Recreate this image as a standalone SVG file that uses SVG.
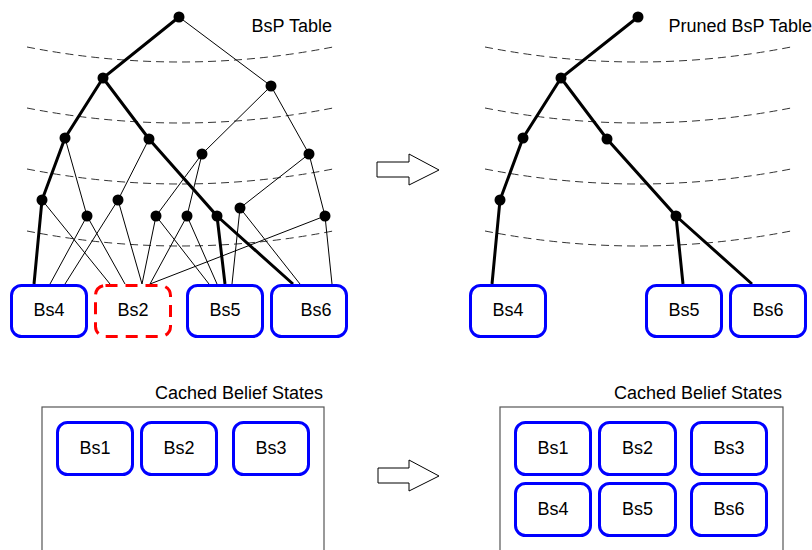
<svg xmlns="http://www.w3.org/2000/svg" width="812" height="550" viewBox="0 0 812 550">
<style>
text{font-family:"Liberation Sans",Arial,sans-serif;font-size:18px;fill:#000}
.lbl{text-anchor:middle}
.title{text-anchor:end}
.dash{fill:none;stroke:#333;stroke-width:1;stroke-dasharray:8,5}
.thin{stroke:#000;stroke-width:1;fill:none}
.thick{stroke:#000;stroke-width:3;fill:none}
.bs{fill:#fff;stroke:#0000ff;stroke-width:3}
.bsx{fill:#fff;stroke:#ff0000;stroke-width:3;stroke-dasharray:12,8}
.cont{fill:#fff;stroke:#555;stroke-width:1.2}
.arrow{fill:#fff;stroke:#000;stroke-width:1}
circle{fill:#000}
</style>
<rect width="812" height="550" fill="#fff"/>
<g id="levels">
<path class="dash" d="M27,47 Q180,77 333,47"/>
<path class="dash" d="M27,108 Q180,138 333,108"/>
<path class="dash" d="M27,169 Q180,199 333,169"/>
<path class="dash" d="M27,231 Q180,261 333,231"/>
<path class="dash" d="M485,47 Q638,77 791,47"/>
<path class="dash" d="M485,108 Q638,138 791,108"/>
<path class="dash" d="M485,169 Q638,199 791,169"/>
<path class="dash" d="M485,231 Q638,261 791,231"/>
</g>
<g id="connectors">
<path class="thick" d="M179,17 L103,78 L65,138 L42,200 L34,284 M103,78 L149,139 L217,216 L225,284 M217,216 L293,284"/>
<path class="thin" d="M179,17 L271,86 L202,154 M271,86 L309,154 M65,138 L87,216 M149,139 L118,200 M202,154 L156,216 M202,154 L187,216 M309,154 L240,208 M309,154 L325,216
M42,200 L110,284 M87,216 L50,284 M87,216 L125,284 M118,200 L65,284 M118,200 L142,284 M156,216 L142,284 M156,216 L209,284 M187,216 L150,284 M187,216 L217,284 M240,208 L232,284 M240,208 L300,284 M325,216 L150,284 M325,216 L332,284"/>
<path class="thick" d="M638,17 L561,78 L523,138 L500,200 L492,284 M561,78 L607,139 L676,216 L683,284 M676,216 L752,284"/>
</g>
<g id="tree-nodes">
<circle cx="179" cy="17" r="5.5"/>
<circle cx="103" cy="78" r="5.5"/>
<circle cx="271" cy="86" r="5.5"/>
<circle cx="65" cy="138" r="5.5"/>
<circle cx="149" cy="139" r="5.5"/>
<circle cx="202" cy="154" r="5.5"/>
<circle cx="309" cy="154" r="5.5"/>
<circle cx="42" cy="200" r="5.5"/>
<circle cx="87" cy="216" r="5.5"/>
<circle cx="118" cy="200" r="5.5"/>
<circle cx="156" cy="216" r="5.5"/>
<circle cx="187" cy="216" r="5.5"/>
<circle cx="217" cy="216" r="5.5"/>
<circle cx="240" cy="208" r="5.5"/>
<circle cx="325" cy="216" r="5.5"/>
<circle cx="638" cy="17" r="5.5"/>
<circle cx="561" cy="78" r="5.5"/>
<circle cx="523" cy="138" r="5.5"/>
<circle cx="607" cy="139" r="5.5"/>
<circle cx="500" cy="200" r="5.5"/>
<circle cx="676" cy="216" r="5.5"/>
</g>
<g id="titles">
<text class="title" x="332" y="32">BsP Table</text>
<text class="title" x="812" y="32">Pruned BsP Table</text>
</g>
<g id="left-Bs4"><rect class="bs" x="11.5" y="285.5" width="75" height="51" rx="10"/><text class="lbl" x="49" y="316">Bs4</text></g>
<g id="left-Bs2"><rect class="bsx" x="95.5" y="285.5" width="75" height="51" rx="10"/><text class="lbl" x="133" y="316">Bs2</text></g>
<g id="left-Bs5"><rect class="bs" x="187.5" y="285.5" width="75" height="51" rx="10"/><text class="lbl" x="225" y="316">Bs5</text></g>
<g id="left-Bs6"><rect class="bs" x="271.5" y="285.5" width="75" height="51" rx="10"/><text class="lbl" x="316" y="316">Bs6</text></g>
<g id="right-Bs4"><rect class="bs" x="470.5" y="285.5" width="75" height="51" rx="10"/><text class="lbl" x="508" y="316">Bs4</text></g>
<g id="right-Bs5"><rect class="bs" x="646.5" y="285.5" width="75" height="51" rx="10"/><text class="lbl" x="684" y="316">Bs5</text></g>
<g id="right-Bs6"><rect class="bs" x="730.5" y="285.5" width="75" height="51" rx="10"/><text class="lbl" x="768" y="316">Bs6</text></g>
<g id="arrow-top"><polygon class="arrow" points="377,162 409,162 409,154 439,170 409,185 409,177 377,177"/></g>
<g id="arrow-bottom"><polygon class="arrow" points="378,468 409,468 409,460 439,476 409,491 409,483 378,483"/></g>
<g id="cache-left">
<rect class="cont" x="42" y="407" width="282" height="160"/>
<text class="title" x="323" y="399">Cached Belief States</text>
</g>
<g id="cache-left-Bs1"><rect class="bs" x="57.5" y="422.5" width="75" height="52" rx="10"/><text class="lbl" x="95" y="454">Bs1</text></g>
<g id="cache-left-Bs2"><rect class="bs" x="141.5" y="422.5" width="75" height="52" rx="10"/><text class="lbl" x="179" y="454">Bs2</text></g>
<g id="cache-left-Bs3"><rect class="bs" x="233.5" y="422.5" width="75" height="52" rx="10"/><text class="lbl" x="271" y="454">Bs3</text></g>
<g id="cache-right">
<rect class="cont" x="500" y="407" width="283" height="160"/>
<text class="title" x="782" y="399">Cached Belief States</text>
</g>
<g id="cache-right-Bs1"><rect class="bs" x="515.5" y="422.5" width="75" height="52" rx="10"/><text class="lbl" x="553" y="454">Bs1</text></g>
<g id="cache-right-Bs2"><rect class="bs" x="599.5" y="422.5" width="76" height="52" rx="10"/><text class="lbl" x="637.5" y="454">Bs2</text></g>
<g id="cache-right-Bs3"><rect class="bs" x="691.5" y="422.5" width="75" height="52" rx="10"/><text class="lbl" x="729" y="454">Bs3</text></g>
<g id="cache-right-Bs4"><rect class="bs" x="515.5" y="483.5" width="75" height="52" rx="10"/><text class="lbl" x="553" y="515">Bs4</text></g>
<g id="cache-right-Bs5"><rect class="bs" x="599.5" y="483.5" width="76" height="52" rx="10"/><text class="lbl" x="637.5" y="515">Bs5</text></g>
<g id="cache-right-Bs6"><rect class="bs" x="691.5" y="483.5" width="75" height="52" rx="10"/><text class="lbl" x="729" y="515">Bs6</text></g>
</svg>
